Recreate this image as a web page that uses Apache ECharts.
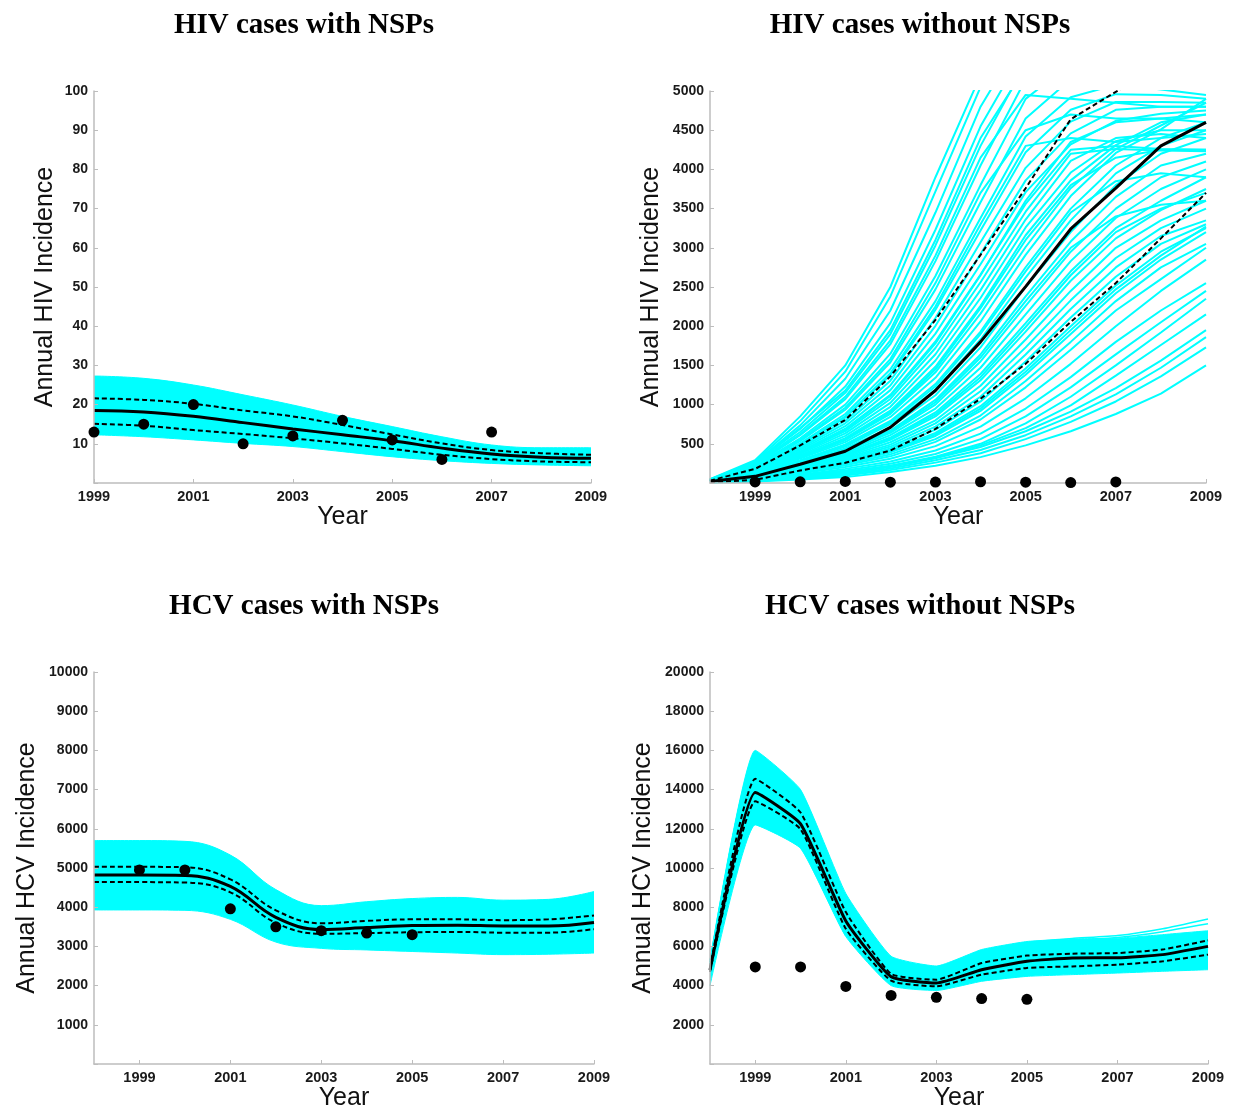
<!DOCTYPE html>
<html>
<head>
<meta charset="utf-8">
<script src="https://cdn.jsdelivr.net/npm/echarts@6/dist/echarts.min.js"></script>
<style>
    html, body { margin: 0; padding: 0; background: #fff; }
    #main { width: 1236px; height: 1113px; }
</style>
</head>
<body>
<div id="main"></div>
<script>
// years on the x axes
const yearsFull = [1998, 1999, 2000, 2001, 2002, 2003, 2004, 2005, 2006, 2007, 2008, 2009];
const yearsNsp = [1999, 2000, 2001, 2002, 2003, 2004, 2005, 2006, 2007, 2008, 2009];
const yearTicks = [1999, 2001, 2003, 2005, 2007, 2009];

// observed data points
const hivObsYears = [1999, 2000, 2001, 2002, 2003, 2004, 2005, 2006, 2007];
const hivObs = [13, 15, 20, 10, 12, 16, 11, 6, 13];
const hcvObsYears = [1999, 2000, 2001, 2002, 2003, 2004, 2005];
const hcvObs = [4950, 4950, 3960, 3500, 3400, 3340, 3300];

// HIV with NSPs (1999-2009)
const hivNspMedian = [18.5, 18.1, 17.0, 15.4, 13.8, 12.3, 10.8, 8.9, 7.4, 6.6, 6.3];
const hivNspUpper = [21.6, 21.2, 20.2, 18.5, 17.0, 14.8, 12.4, 10.1, 8.4, 7.6, 7.2];
const hivNspLower = [15.1, 14.6, 13.5, 12.5, 11.4, 10.1, 8.7, 7.2, 6.1, 5.5, 5.3];
const hivNspBandHigh = [27.3, 26.7, 25.0, 22.5, 19.9, 17.0, 14.4, 11.8, 9.7, 9.0, 9.0];
const hivNspBandLow = [12.3, 11.8, 11.0, 10.1, 9.3, 8.0, 6.7, 5.7, 5.0, 4.6, 4.4];

// HIV without NSPs (1998-2009)
const hivNoNspMedian = [20, 85, 240, 405, 710, 1180, 1800, 2505, 3240, 3760, 4300, 4600];
const hivNoNspUpper = [30, 180, 480, 805, 1360, 2080, 2910, 3760, 4640, 4990, 5300, 5600];
const hivNoNspLower = [10, 40, 160, 258, 415, 690, 1075, 1520, 2055, 2550, 3120, 3700];
const hivNoNspRuns = [
    [50, 290, 850, 1500, 2500, 3900, 5200, 6000, 6300, 6400, 6400, 6400],
    [45, 275, 790, 1420, 2380, 3720, 5050, 5900, 6200, 6300, 6300, 6300],
    [45, 262, 735, 1330, 2200, 3450, 4800, 5750, 6100, 6200, 6200, 6200],
    [42, 255, 700, 1180, 1950, 3100, 4400, 5300, 5300, 5200, 5200, 5200],
    [40, 250, 690, 1230, 2040, 3230, 4550, 5550, 5950, 6050, 6000, 6000],
    [40, 240, 650, 1150, 1900, 3030, 4300, 5350, 5750, 5850, 5800, 5800],
    [38, 235, 620, 1100, 1820, 2900, 4150, 4950, 4900, 4850, 4800, 4800],
    [40, 232, 610, 1070, 1770, 2830, 4050, 5150, 5550, 5650, 5600, 5600],
    [35, 222, 570, 1000, 1650, 2640, 3800, 4900, 5350, 5450, 5400, 5300],
    [33, 215, 550, 960, 1580, 2550, 3700, 4500, 4700, 4650, 4650, 4700],
    [35, 212, 535, 935, 1540, 2470, 3580, 4650, 5150, 5250, 5150, 5100],
    [35, 202, 505, 880, 1450, 2320, 3380, 4420, 4920, 5080, 5020, 4950],
    [30, 200, 490, 850, 1400, 2250, 3300, 4300, 4400, 4350, 4400, 4450],
    [30, 196, 482, 835, 1375, 2210, 3220, 4220, 4760, 4960, 4950, 4900],
    [30, 190, 462, 795, 1305, 2105, 3070, 4020, 4610, 4860, 4860, 4850],
    [30, 185, 442, 762, 1245, 2005, 2920, 3860, 4460, 4760, 4800, 4800],
    [30, 180, 422, 725, 1185, 1905, 2790, 3710, 4320, 4620, 4710, 4750],
    [28, 175, 402, 692, 1125, 1805, 2660, 3560, 4250, 4300, 4260, 4250],
    [27, 172, 395, 680, 1110, 1780, 2650, 3600, 4350, 4600, 4650, 4600],
    [28, 170, 386, 662, 1072, 1722, 2560, 3460, 4200, 4260, 4240, 4230],
    [28, 165, 371, 632, 1022, 1642, 2460, 3360, 4110, 4400, 4450, 4400],
    [25, 160, 356, 602, 972, 1562, 2360, 3260, 3960, 4360, 4500, 4500],
    [25, 152, 341, 572, 922, 1482, 2260, 3160, 3860, 4310, 4600, 4700],
    [24, 148, 330, 555, 900, 1450, 2230, 3100, 3800, 4150, 4250, 4250],
    [25, 146, 326, 546, 882, 1412, 2160, 3010, 3760, 4260, 4560, 4850],
    [25, 140, 311, 521, 842, 1342, 2060, 2910, 3660, 4210, 4510, 4900],
    [22, 131, 291, 491, 792, 1262, 1932, 2752, 3500, 4050, 4400, 4600],
    [21, 128, 285, 480, 775, 1230, 1900, 2700, 3450, 3850, 3950, 3900],
    [22, 125, 275, 465, 750, 1190, 1830, 2620, 3350, 3950, 4300, 4500],
    [20, 120, 260, 440, 710, 1120, 1730, 2500, 3200, 3800, 4200, 4400],
    [20, 115, 250, 420, 670, 1060, 1640, 2380, 3080, 3650, 4050, 4200],
    [19, 112, 245, 410, 655, 1030, 1600, 2320, 3000, 3400, 3550, 3600],
    [20, 110, 240, 400, 640, 1000, 1550, 2260, 2950, 3500, 3900, 4100],
    [18, 105, 230, 380, 610, 950, 1470, 2150, 2830, 3380, 3750, 4000],
    [18, 100, 220, 360, 580, 900, 1390, 2040, 2700, 3250, 3600, 3900],
    [17, 98, 215, 352, 565, 875, 1350, 1990, 2650, 3200, 3500, 3700],
    [18, 95, 210, 345, 550, 850, 1310, 1930, 2580, 3120, 3480, 3750],
    [16, 90, 200, 330, 520, 800, 1240, 1830, 2450, 3000, 3350, 3600],
    [16, 85, 190, 315, 490, 760, 1170, 1730, 2330, 2870, 3250, 3500],
    [15, 80, 180, 300, 465, 720, 1100, 1640, 2220, 2750, 3150, 3350],
    [15, 75, 170, 285, 440, 680, 1040, 1550, 2110, 2630, 3050, 3300],
    [14, 70, 160, 270, 415, 640, 980, 1460, 2000, 2520, 2950, 3250],
    [14, 68, 155, 262, 402, 620, 950, 1420, 1950, 2470, 2900, 3270],
    [14, 65, 150, 255, 390, 600, 920, 1380, 1900, 2420, 2850, 3200],
    [13, 60, 140, 240, 365, 560, 860, 1300, 1800, 2320, 2750, 3050],
    [13, 55, 130, 225, 340, 525, 810, 1220, 1700, 2200, 2600, 3000],
    [12, 50, 120, 205, 310, 470, 720, 1080, 1520, 2000, 2450, 2850],
    [12, 45, 105, 180, 275, 415, 630, 950, 1350, 1800, 2200, 2550],
    [10, 40, 95, 160, 245, 370, 560, 850, 1220, 1640, 2050, 2450],
    [10, 36, 85, 145, 220, 335, 500, 760, 1100, 1500, 1920, 2350],
    [9, 33, 78, 135, 215, 325, 480, 700, 990, 1370, 1760, 2150],
    [8, 30, 70, 125, 205, 315, 460, 660, 910, 1210, 1560, 1950],
    [8, 27, 62, 110, 185, 290, 420, 610, 850, 1130, 1470, 1860],
    [7, 24, 55, 95, 165, 260, 380, 560, 780, 1040, 1360, 1730],
    [6, 20, 45, 75, 140, 220, 330, 480, 660, 880, 1140, 1500]
];

// HCV with NSPs (1998-2009)
const hcvNspMedian = [4820, 4820, 4810, 4530, 3740, 3430, 3480, 3530, 3540, 3520, 3520, 3610];
const hcvNspUpper = [5030, 5030, 5020, 4710, 3920, 3590, 3650, 3690, 3690, 3670, 3690, 3790];
const hcvNspLower = [4640, 4640, 4630, 4380, 3600, 3320, 3340, 3360, 3370, 3350, 3350, 3440];
const hcvNspBandHigh = [5700, 5700, 5680, 5330, 4450, 4040, 4140, 4220, 4250, 4180, 4200, 4400];
const hcvNspBandLow = [3930, 3930, 3920, 3690, 3110, 2950, 2910, 2870, 2830, 2790, 2800, 2830];

// HCV without NSPs (1998-2009)
const hcvNoNspMedian = [4800, 13850, 12250, 7300, 4450, 4130, 4810, 5240, 5410, 5420, 5580, 6000];
const hcvNoNspUpper = [4900, 14550, 12830, 7750, 4600, 4300, 5150, 5530, 5630, 5660, 5840, 6310];
const hcvNoNspLower = [4700, 13400, 11980, 6900, 4250, 3960, 4560, 4900, 4980, 5070, 5240, 5580];
const hcvNoNspBandHigh = [5300, 16000, 14000, 8700, 5500, 5000, 5840, 6250, 6380, 6420, 6600, 6800];
const hcvNoNspBandLow = [4000, 12200, 11000, 6500, 4000, 3750, 4220, 4470, 4560, 4640, 4730, 4810];
const hcvNoNspOutlierA = [5200, 15800, 13900, 8500, 5350, 4900, 5750, 6200, 6400, 6550, 6900, 7400];
const hcvNoNspOutlierB = [5100, 15300, 13600, 8300, 5250, 4850, 5650, 6100, 6300, 6450, 6750, 7150];

const CYAN = '#00FFFF';
const SANS = 'Liberation Sans, Arial, sans-serif';

function pairs(xs, ys) {
    return xs.map(function (x, i) { return [x, ys[i]]; });
}

function xAxisFor(gi, min) {
    return {
        type: 'value', gridIndex: gi, min: min, max: 2009, interval: 1, z: 10,
        name: 'Year', nameLocation: 'middle', nameGap: 20,
        nameTextStyle: { fontSize: 25, fontFamily: SANS, color: '#111' },
        axisLine: { lineStyle: { color: '#bdbdbd', width: 1.5 } },
        axisTick: { inside: true, length: 4, lineStyle: { color: '#bdbdbd' }, customValues: yearTicks },
        axisLabel: {
            customValues: yearTicks, fontSize: 14.5, fontWeight: 'bold', fontFamily: SANS, color: '#1a1a1a', margin: 6,
            formatter: function (v) { return String(v); }
        },
        splitLine: { show: false }
    };
}

function yAxisFor(gi, max, interval, name, gap) {
    return {
        type: 'value', gridIndex: gi, min: 0, max: max, interval: interval, z: 10,
        name: name, nameLocation: 'middle', nameGap: gap,
        nameTextStyle: { fontSize: 25, fontFamily: SANS, color: '#111' },
        axisLine: { show: true, lineStyle: { color: '#bdbdbd', width: 1.5 } },
        axisTick: { show: true, inside: true, length: 4, lineStyle: { color: '#bdbdbd' } },
        axisLabel: {
            fontSize: 14, fontWeight: 'bold', fontFamily: SANS, color: '#1a1a1a', margin: 6,
            formatter: function (v) { return v === 0 ? '' : String(v); }
        },
        splitLine: { show: false }
    };
}

// cyan envelope: fill under the upper edge, then white-out under the lower edge
function band(gi, xs, low, high, smooth) {
    return [{
        type: 'line', xAxisIndex: gi, yAxisIndex: gi, z: 1,
        data: pairs(xs, high), symbol: 'none', smooth: smooth, silent: true,
        lineStyle: { color: CYAN, width: 1 },
        areaStyle: { color: CYAN, opacity: 1 }
    }, {
        type: 'line', xAxisIndex: gi, yAxisIndex: gi, z: 1,
        data: pairs(xs, low), symbol: 'none', smooth: smooth, silent: true,
        lineStyle: { color: CYAN, width: 1 },
        areaStyle: { color: '#fff', opacity: 1 }
    }];
}

function line(gi, xs, ys, style, smooth) {
    return {
        type: 'line', xAxisIndex: gi, yAxisIndex: gi, data: pairs(xs, ys),
        symbol: 'none', smooth: smooth, z: 3, lineStyle: style
    };
}

function summary(gi, xs, med, up, lo, smooth) {
    const dash = { color: '#000', width: 2, type: [5, 3] };
    return [
        line(gi, xs, up, dash, smooth),
        line(gi, xs, lo, dash, smooth),
        line(gi, xs, med, { color: '#000', width: 3 }, smooth)
    ];
}

function dots(gi, xs, ys) {
    return {
        type: 'scatter', xAxisIndex: gi, yAxisIndex: gi, data: pairs(xs, ys),
        symbolSize: 11, itemStyle: { color: '#000', opacity: 1 }, z: 12
    };
}

let series = [];
// panel 1
series = series.concat(band(0, yearsNsp, hivNspBandLow, hivNspBandHigh, 0.4));
series = series.concat(summary(0, yearsNsp, hivNspMedian, hivNspUpper, hivNspLower, 0.4));
series.push(dots(0, hivObsYears, hivObs));
// panel 2
hivNoNspRuns.forEach(function (run) {
    series.push({
        type: 'line', xAxisIndex: 1, yAxisIndex: 1, data: pairs(yearsFull, run),
        symbol: 'none', silent: true, lineStyle: { color: CYAN, width: 2 }
    });
});
series = series.concat(summary(1, yearsFull, hivNoNspMedian, hivNoNspUpper, hivNoNspLower, false));
series.push(dots(1, hivObsYears, hivObs));
// panel 3
series = series.concat(band(2, yearsFull, hcvNspBandLow, hcvNspBandHigh, 0.4));
series = series.concat(summary(2, yearsFull, hcvNspMedian, hcvNspUpper, hcvNspLower, 0.4));
series.push(dots(2, hcvObsYears, hcvObs));
// panel 4
series = series.concat(band(3, yearsFull, hcvNoNspBandLow, hcvNoNspBandHigh, 0.15));
[hcvNoNspOutlierA, hcvNoNspOutlierB].forEach(function (run) {
    series.push({
        type: 'line', xAxisIndex: 3, yAxisIndex: 3, data: pairs(yearsFull, run),
        symbol: 'none', smooth: 0.15, silent: true, z: 2, lineStyle: { color: CYAN, width: 1.5 }
    });
});
series = series.concat(summary(3, yearsFull, hcvNoNspMedian, hcvNoNspUpper, hcvNoNspLower, 0.15));
series.push(dots(3, hcvObsYears, hcvObs));

function titleAt(text, x, y) {
    return {
        text: text, left: x, top: y, textAlign: 'center',
        textStyle: { fontFamily: 'Liberation Serif, Times New Roman, serif', fontWeight: 'bold', fontSize: 29, color: '#000' }
    };
}

const chart = echarts.init(document.getElementById('main'));
chart.setOption({
    animation: false,
    backgroundColor: '#fff',
    title: [
        titleAt('HIV cases with NSPs', 299, 6),
        titleAt('HIV cases without NSPs', 915, 6),
        titleAt('HCV cases with NSPs', 299, 587),
        titleAt('HCV cases without NSPs', 915, 587)
    ],
    grid: [
        { left: 94, top: 91, width: 497, height: 392 },
        { left: 710, top: 91, width: 496, height: 392 },
        { left: 94, top: 672, width: 500, height: 392 },
        { left: 710, top: 672, width: 498, height: 392 }
    ],
    xAxis: [xAxisFor(0, 1999), xAxisFor(1, 1998), xAxisFor(2, 1998), xAxisFor(3, 1998)],
    yAxis: [
        yAxisFor(0, 100, 10, 'Annual HIV Incidence', 36),
        yAxisFor(1, 5000, 500, 'Annual HIV Incidence', 46),
        yAxisFor(2, 10000, 1000, 'Annual HCV Incidence', 54),
        yAxisFor(3, 20000, 2000, 'Annual HCV Incidence', 54)
    ],
    series: series
});
</script>
</body>
</html>
